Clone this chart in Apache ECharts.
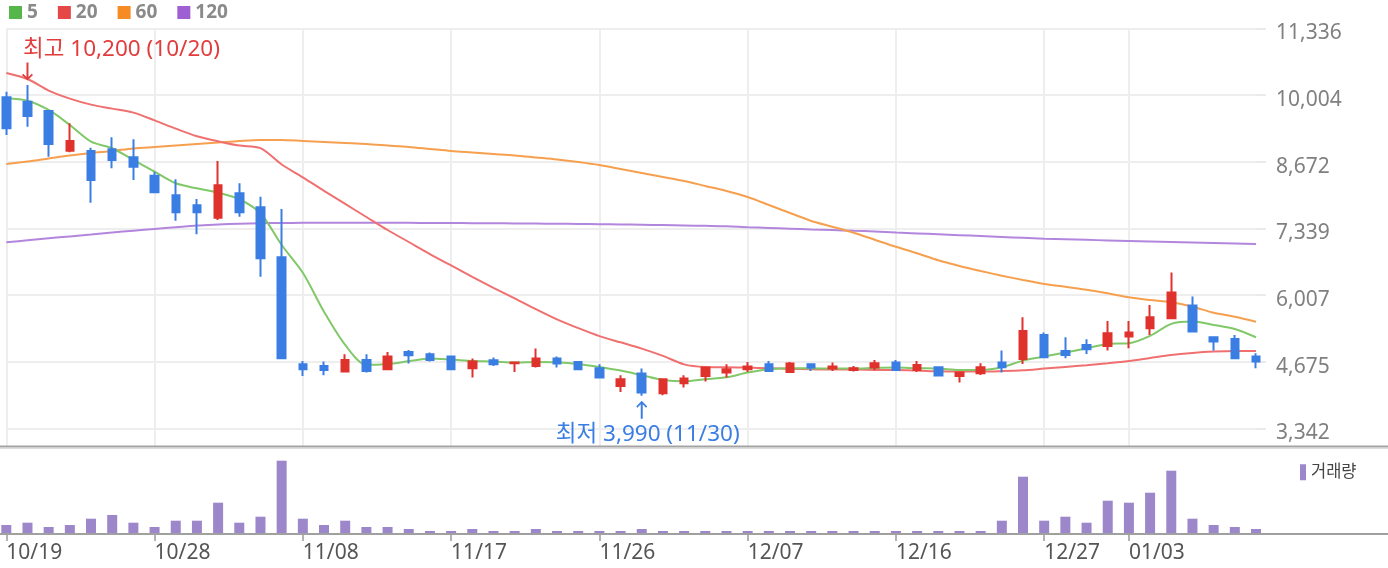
<!DOCTYPE html>
<html><head><meta charset="utf-8">
<script src="https://cdn.jsdelivr.net/npm/echarts@6/dist/echarts.min.js"></script>
<style>html,body{margin:0;padding:0;background:#fff}#c{width:1388px;height:568px}</style>
</head><body><div id="c"></div>
<script>
const dates = ['10/19','10/20','10/21','10/22','10/25','10/26','10/27','10/28','10/29','11/01','11/02','11/03','11/04','11/05','11/08','11/09','11/10','11/11','11/12','11/15','11/16','11/17','11/18','11/19','11/22','11/23','11/24','11/25','11/26','11/29','11/30','12/01','12/02','12/03','12/06','12/07','12/08','12/09','12/10','12/13','12/14','12/15','12/16','12/17','12/20','12/21','12/22','12/23','12/24','12/27','12/28','12/29','12/30','01/03','01/04','01/05','01/06','01/07','01/10','01/11'];
const labelDates = ['10/19','10/28','11/08','11/17','11/26','12/07','12/16','12/27','01/03'];
const yTickLabels = ['3,342','4,675','6,007','7,339','8,672','10,004','11,336'];

const open = [9957,9869,9683,8890,8884,8918,8758,8390,7999,7799,
  7551,8038,7759,6759,4622,4588,4475,4708,4522,4868,
  4822,4775,4542,4702,4642,4588,4735,4668,4542,4189,
  4435,4042,4242,4389,4455,4522,4622,4469,4622,4535,
  4508,4555,4655,4508,4560,4389,4442,4655,4728,5208,
  4888,5008,4988,5175,5341,5541,5794,5161,5128,4775];
const close = [9338,9583,9024,9084,8304,8704,8570,8058,7659,7659,
  8198,7659,6739,4741,4522,4508,4708,4488,4775,4802,
  4708,4522,4675,4622,4655,4735,4635,4522,4355,4322,
  4055,4322,4335,4555,4522,4575,4488,4635,4555,4575,
  4542,4642,4508,4608,4395,4455,4562,4562,5288,4762,
  4808,4921,5241,5255,5561,6054,5275,5075,4742,4675];
const low = [9204,9370,8770,8858,7851,8538,8304,8050,7491,7219,
  7505,7571,6372,4741,4389,4402,4475,4455,4522,4635,
  4675,4522,4355,4588,4469,4555,4555,4515,4350,4069,
  3990,4000,4155,4275,4355,4468,4488,4455,4488,4488,
  4475,4508,4508,4468,4395,4255,4409,4455,4628,4742,
  4742,4828,4895,4941,5208,5521,5255,4895,4742,4542];
const high = [10069,10200,9700,9437,8950,9158,9118,8470,8318,7925,
  8684,8238,7971,7725,4688,4675,4822,4822,4868,4908,
  4855,4788,4735,4755,4655,4935,4775,4675,4622,4402,
  4535,4342,4402,4555,4622,4668,4688,4668,4622,4655,
  4588,4708,4708,4688,4562,4455,4642,4895,5561,5255,
  5161,5121,5488,5488,5808,6454,5974,5161,5208,4842];

const ma5 = [9937,9889,9703,9403,9070,8938,8704,8470,8238,8138,
  8051,7919,7639,7005,6450,5672,5007,4610,4628,4682,
  4735,4715,4688,4675,4655,4668,4662,4628,4568,4495,
  4402,4309,4282,4322,4362,4455,4522,4542,4542,4535,
  4535,4548,4555,4542,4535,4508,4508,4562,4695,4775,
  4855,4941,5028,5041,5188,5428,5474,5408,5328,5161];
const ma20 = [10443,10323,10090,9930,9810,9730,9650,9495,9330,9178,
  9078,8992,8940,8614,8357,8087,7825,7565,7305,7065,
  6825,6596,6370,6150,5940,5725,5520,5345,5185,5060,
  4935,4790,4620,4568,4562,4555,4542,4528,4522,4515,
  4515,4508,4505,4495,4480,4475,4475,4485,4502,4535,
  4568,4602,4642,4688,4748,4808,4848,4875,4888,4888];
const ma60 = [8624,8674,8734,8794,8844,8884,8934,8964,8994,9024,
  9054,9084,9104,9104,9084,9064,9044,9024,8994,8964,
  8924,8884,8854,8824,8794,8754,8714,8664,8604,8524,
  8444,8364,8284,8184,8084,7964,7805,7645,7485,7370,
  7250,7110,6970,6840,6700,6586,6486,6392,6306,6226,
  6172,6112,6040,5960,5906,5860,5772,5652,5572,5472];
const ma120 = [7059,7099,7138,7177,7215,7254,7291,7326,7360,7394,
  7414,7431,7440,7445,7448,7450,7450,7450,7449,7448,
  7446,7444,7442,7440,7437,7434,7430,7426,7422,7416,
  7410,7403,7396,7388,7379,7360,7346,7332,7317,7303,
  7289,7275,7255,7237,7219,7201,7184,7166,7148,7130,
  7119,7108,7097,7087,7077,7066,7056,7046,7036,7025];
const volume = [180000,226000,140000,180000,306000,380000,226000,140000,266000,266000,
  626000,226000,346000,1466000,306000,180000,266000,140000,140000,100000,
  60000,60000,100000,60000,60000,100000,60000,60000,60000,60000,
  100000,60000,60000,60000,60000,60000,60000,60000,60000,60000,
  60000,60000,60000,60000,60000,60000,60000,266000,1146000,266000,
  346000,226000,666000,626000,826000,1266000,306000,180000,140000,100000];

const hiMark = {date:'10/20', value:10200, text:'최고 10,200 (10/20)'};
const loMark = {date:'11/30', value:3990, text:'최저 3,990 (11/30)'};

const yMin = 3342, yInterval = 1332.25, yMax = yMin + 6 * yInterval;
const volMax = 1640000;
const FONT = "'Noto Sans', 'Noto Sans CJK KR', sans-serif";
const showTick = (i) => labelDates.indexOf(dates[i]) >= 0;
const candle = dates.map((d, i) => [open[i], close[i], low[i], high[i]]);
const ARROW = 'path://M4.5,0 L6.5,0 L6.5,14.5 L9.8,11.2 L11,12.4 L5.5,18 L0,12.4 L1.2,11.2 L4.5,14.5 Z';
const RED = '#e0322c', BLUE = '#3a7ee4';

const chart = echarts.init(document.getElementById('c'));
chart.setOption({
  animation: false,
  textStyle: {fontFamily: FONT},
  grid: [
    {left: 6.3, right: 132, top: 28.3, height: 400, outerBoundsMode: 'none'},
    {left: 6.3, right: 132, top: 452, height: 82, outerBoundsMode: 'none'},
    {left: 6.3, right: 132, top: 28, height: 419, outerBoundsMode: 'none'}
  ],
  legend: [
    {data: [{name:'5', itemStyle:{color:'#55b74a'}}, {name:'20', itemStyle:{color:'#e64848'}},
            {name:'60', itemStyle:{color:'#f58b22'}}, {name:'120', itemStyle:{color:'#9d5fd1'}}],
     left: 9, top: 3, padding: 0, icon: 'rect', itemWidth: 13, itemHeight: 13, itemGap: 20, selectedMode: false,
     textStyle: {fontSize: 19, fontWeight: 'bold', color: '#8a8a8a', fontFamily: FONT}},
    {data: [{name:'거래량', itemStyle:{color:'#9b87c9'}}], left: 1300, top: 464, padding: 0, icon: 'rect',
     itemWidth: 6, itemHeight: 16, selectedMode: false,
     textStyle: {fontSize: 16.5, color: '#444', fontFamily: FONT}}
  ],
  xAxis: [
    {type: 'category', gridIndex: 0, data: dates, boundaryGap: false,
     axisLine: {show: false}, axisTick: {show: false}, axisLabel: {show: false}, splitLine: {show: false}},
    {type: 'category', gridIndex: 1, data: dates, boundaryGap: false,
     axisLine: {show: false},
     axisTick: {show: true, interval: (i) => showTick(i), length: 7, lineStyle: {color: '#9a9a9a', width: 1.5}},
     axisLabel: {interval: (i) => showTick(i), align: 'left', margin: 9, fontSize: 21, color: '#555'},
     splitLine: {show: false}},
    {type: 'category', gridIndex: 2, data: dates, boundaryGap: false,
     axisLine: {show: false}, axisTick: {show: false}, axisLabel: {show: false},
     splitLine: {show: true, interval: (i) => showTick(i), lineStyle: {color: '#eeeeee', width: 2}}}
  ],
  yAxis: [
    {type: 'value', gridIndex: 0, position: 'right', min: yMin, max: yMax, interval: yInterval,
     axisLine: {show: false},
     axisTick: {show: true, length: 10, lineStyle: {color: '#eaeaea', width: 2}},
     axisLabel: {margin: 20, color: '#808080',
       formatter: (v) => '{t|' + yTickLabels[Math.round((v - yMin) / yInterval)] + '}',
       rich: {t: {fontSize: 21, color: '#808080', fontFamily: FONT, padding: [10, 0, 0, 0]}}},
     splitLine: {show: true, lineStyle: {color: '#eeeeee', width: 2}}},
    {type: 'value', gridIndex: 1, min: 0, max: volMax, show: false},
    {type: 'value', gridIndex: 2, min: 0, max: 1, show: false}
  ],
  graphic: [
    {type: 'line', shape: {x1: 0, y1: 446.5, x2: 1388, y2: 446.5}, style: {stroke: '#a3a3a3', lineWidth: 2}, z: 100},
    {type: 'line', shape: {x1: 0, y1: 448.5, x2: 1388, y2: 448.5}, style: {stroke: '#dddddd', lineWidth: 1}, z: 100},
    {type: 'line', shape: {x1: 0, y1: 534, x2: 1388, y2: 534}, style: {stroke: '#a0a0a0', lineWidth: 2}, z: 100}
  ],
  series: [
    {name: '120', type: 'line', xAxisIndex: 0, yAxisIndex: 0, data: ma120, smooth: 0.3, showSymbol: false,
     lineStyle: {color: '#b386de', width: 2}, itemStyle: {color: '#9d5fd1'}, z: 3},
    {name: '60', type: 'line', xAxisIndex: 0, yAxisIndex: 0, data: ma60, smooth: 0.3, showSymbol: false,
     lineStyle: {color: '#f6a04f', width: 2}, itemStyle: {color: '#f58b22'}, z: 3},
    {name: '20', type: 'line', xAxisIndex: 0, yAxisIndex: 0, data: ma20, smooth: 0.3, showSymbol: false,
     lineStyle: {color: '#f07070', width: 2}, itemStyle: {color: '#e64848'}, z: 3},
    {name: '5', type: 'line', xAxisIndex: 0, yAxisIndex: 0, data: ma5, smooth: 0.3, showSymbol: false,
     lineStyle: {color: '#80c868', width: 2}, itemStyle: {color: '#55b74a'}, z: 3},
    {name: '가격', type: 'candlestick', xAxisIndex: 0, yAxisIndex: 0, data: candle, barWidth: 8, clip: false, z: 5,
     itemStyle: {color: RED, color0: BLUE, borderColor: RED, borderColor0: BLUE, borderWidth: 2},
     markPoint: {
       data: [
         {coord: [hiMark.date, hiMark.value], symbol: ARROW, symbolSize: [11, 18], symbolOffset: [0, -13.5],
          itemStyle: {color: '#e23c3c'}, label: {show: false}},
         {coord: [hiMark.date, hiMark.value], symbol: 'circle', symbolSize: 1,
          itemStyle: {color: 'transparent'},
          label: {show: true, position: 'inside', offset: [94, -36], formatter: hiMark.text,
                  color: '#e23c3c', fontSize: 22.5, fontFamily: FONT}},
         {coord: [loMark.date, loMark.value], symbol: ARROW, symbolRotate: 180, symbolSize: [11, 18], symbolOffset: [0, 14],
          itemStyle: {color: '#3a7ee4'}, label: {show: false}},
         {coord: [loMark.date, loMark.value], symbol: 'circle', symbolSize: 1,
          itemStyle: {color: 'transparent'},
          label: {show: true, position: 'inside', offset: [6, 39], formatter: loMark.text,
                  color: '#3a7ee4', fontSize: 22.5, fontFamily: FONT}}
       ]
     }},
    {name: '거래량', type: 'bar', xAxisIndex: 1, yAxisIndex: 1, data: volume, barWidth: 10, clip: false,
     itemStyle: {color: '#9b87c9'}}
  ]
});
</script></body></html>
